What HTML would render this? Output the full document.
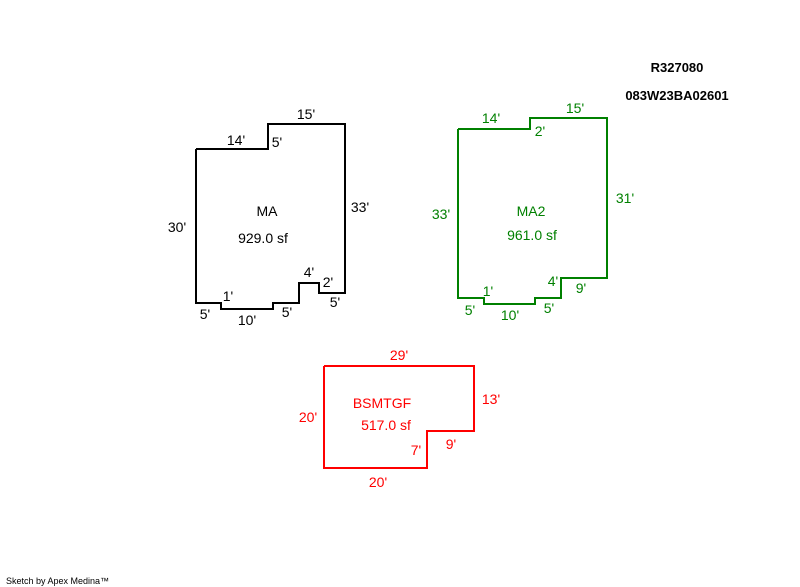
<!DOCTYPE html>
<html><head><style>
html,body{margin:0;padding:0;background:#fff;}
svg{display:block;}
text{font-family:"Liberation Sans",sans-serif;font-size:14px;}
</style></head><body>
<svg width="800" height="587" viewBox="0 0 800 587">
<polyline points="196,149 268,149 268,124 345,124 345,293 319,293 319,283 299,283 299,303 273,303 273,309 221,309 221,303 196,303 196,149" fill="none" stroke="#000" stroke-width="2"/>
<g fill="#000" text-anchor="middle">
<text x="306" y="119">15'</text>
<text x="236" y="145">14'</text>
<text x="277" y="147">5'</text>
<text x="177" y="232">30'</text>
<text x="360" y="212">33'</text>
<text x="267" y="216">MA</text>
<text x="263" y="243">929.0 sf</text>
<text x="309" y="277">4'</text>
<text x="328" y="287">2'</text>
<text x="228" y="301">1'</text>
<text x="205" y="319">5'</text>
<text x="247" y="325">10'</text>
<text x="287" y="317">5'</text>
<text x="335" y="307">5'</text>
</g>
<polyline points="458,129 530,129 530,118 607,118 607,278 561,278 561,298 535,298 535,304 484,304 484,298 458,298 458,129" fill="none" stroke="#008000" stroke-width="2"/>
<g fill="#008000" text-anchor="middle">
<text x="575" y="113">15'</text>
<text x="491" y="123">14'</text>
<text x="540" y="136">2'</text>
<text x="441" y="219">33'</text>
<text x="625" y="203">31'</text>
<text x="531" y="216">MA2</text>
<text x="532" y="240">961.0 sf</text>
<text x="553" y="286">4'</text>
<text x="581" y="293">9'</text>
<text x="488" y="296">1'</text>
<text x="470" y="315">5'</text>
<text x="510" y="320">10'</text>
<text x="549" y="313">5'</text>
</g>
<polyline points="324,366 474,366 474,431 427,431 427,468 324,468 324,366" fill="none" stroke="#ff0000" stroke-width="2"/>
<g fill="#ff0000" text-anchor="middle">
<text x="399" y="360">29'</text>
<text x="491" y="404">13'</text>
<text x="308" y="422">20'</text>
<text x="382" y="408">BSMTGF</text>
<text x="386" y="430">517.0 sf</text>
<text x="416" y="455">7'</text>
<text x="451" y="449">9'</text>
<text x="378" y="487">20'</text>
</g>
<g fill="#000" text-anchor="middle">
<text x="677" y="72" style="font-weight:bold;font-size:13px">R327080</text>
<text x="677" y="100" style="font-weight:bold;font-size:13px">083W23BA02601</text>
</g>
<text x="6" y="584" fill="#000" style="font-size:9px">Sketch by Apex Medina™</text>
</svg>
</body></html>
